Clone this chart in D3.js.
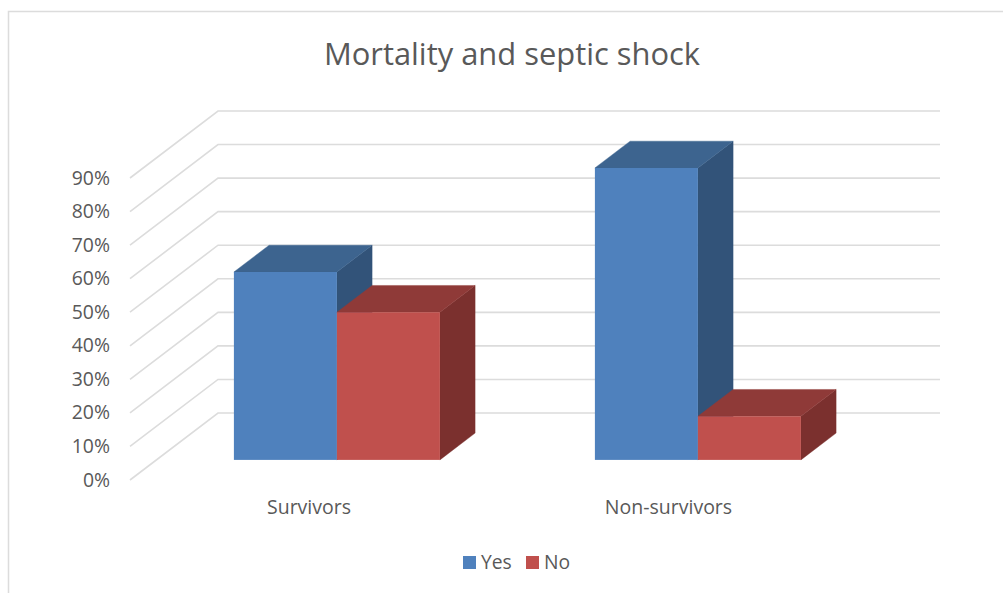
<!DOCTYPE html>
<html>
<head>
<meta charset="utf-8">
<script src="https://cdnjs.cloudflare.com/ajax/libs/d3/7.8.5/d3.min.js"></script>
<style>
  html, body { margin: 0; padding: 0; background: #fff; }
  svg { display: block; }
  text { font-family: "Open Sans", sans-serif; fill: #595959; }
</style>
</head>
<body>
<svg id="chart" width="1003" height="593"></svg>
<script>
const categories = ["Survivors", "Non-survivors"];
const seriesNames = ["Yes", "No"];
const yesValues = [56, 87];
const noValues = [44, 13];
const tickValues = [0, 10, 20, 30, 40, 50, 60, 70, 80, 90];

const frontColors = ["#4f81bd", "#c0504d"];
const topColors = ["#3d648f", "#8f3a38"];
const sideColors = ["#325379", "#7b302e"];

const svg = d3.select("#chart");

// Oblique projection: the floor runs from the front edge to the back wall.
const depthX = 88, depthY = -67;
const x = d3.scaleBand().domain(categories).range([130, 852]);
const y = d3.scaleLinear().domain([0, 90]).range([480, 178]);
const series = d3.scaleBand().domain(seriesNames).range([0, 206]);
const project = (px, value, depth) => [px + depth * depthX, y(value) + depth * depthY];

// Chart frame (top and left edges)
svg.append("path")
  .attr("d", "M8.5,593V11.5H1003")
  .attr("fill", "none").attr("stroke", "#dcdcdc").attr("stroke-width", 1.5);

// Title
svg.append("text")
  .attr("x", 512).attr("y", 65)
  .attr("text-anchor", "middle")
  .attr("font-size", 30.9)
  .text("Mortality and septic shock");

// Wall and floor gridlines
svg.append("g").selectAll("path").data(tickValues).join("path")
  .attr("d", v => d3.line()([project(x.range()[0], v, 0), project(x.range()[0], v, 1), project(x.range()[1], v, 1)]))
  .attr("fill", "none").attr("stroke", "#dcdcdc").attr("stroke-width", 1.6);

// Value axis labels
svg.append("g").selectAll("text").data(tickValues).join("text")
  .attr("x", 110).attr("y", v => y(v) + 6.5)
  .attr("text-anchor", "end")
  .attr("font-size", 19.4)
  .text(v => v + "%");

// Bars: side and top faces go first, then the front, series by series
const barDepthStart = 0.3, barDepthEnd = 0.7;
const poly = pts => d3.line()(pts) + "Z";

categories.forEach((cat, ci) => {
  const left = x(cat) + (x.bandwidth() - series.range()[1]) / 2;
  [yesValues, noValues].forEach((vals, si) => {
    const v = vals[ci];
    const px0 = left + series(seriesNames[si]);
    const px1 = px0 + series.bandwidth();
    const f = barDepthStart, b = barDepthEnd;
    const g = svg.append("g");
    g.append("path")
      .attr("d", poly([project(px1, v, f), project(px1, v, b), project(px1, 0, b), project(px1, 0, f)]))
      .attr("fill", sideColors[si]).attr("stroke", sideColors[si]).attr("stroke-width", 0.4);
    g.append("path")
      .attr("d", poly([project(px0, v, f), project(px0, v, b), project(px1, v, b), project(px1, v, f)]))
      .attr("fill", topColors[si]).attr("stroke", topColors[si]).attr("stroke-width", 0.4);
    const [fx, fy] = project(px0, v, f);
    const [, fb] = project(px0, 0, f);
    g.append("rect")
      .attr("x", fx).attr("y", fy)
      .attr("width", series.bandwidth()).attr("height", fb - fy)
      .attr("fill", frontColors[si]);
  });
});

// Category labels
svg.append("g").selectAll("text").data(categories).join("text")
  .attr("x", d => x(d) + x.bandwidth() / 2 - (d === categories[0] ? 1.5 : 3))
  .attr("y", 514)
  .attr("text-anchor", "middle")
  .attr("font-size", 19.5)
  .text(d => d);

// Legend
const legendX = [463, 526];
const legend = svg.append("g").selectAll("g").data(seriesNames).join("g")
  .attr("transform", (d, i) => `translate(${legendX[i]},556)`);
legend.append("rect").attr("width", 13).attr("height", 13).attr("fill", (d, i) => frontColors[i]);
legend.append("text").attr("x", 18).attr("y", 13).attr("font-size", 19.3).text(d => d);
</script>
</body>
</html>
